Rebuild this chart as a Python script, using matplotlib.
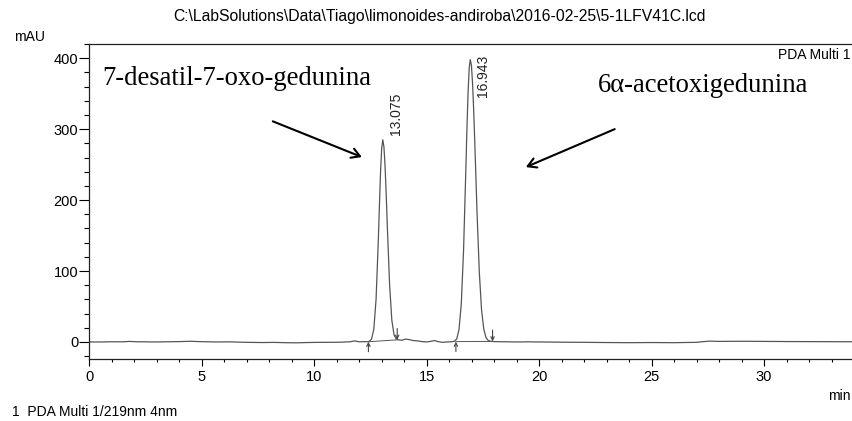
"""
HPLC chromatogram - limonoides andiroba (PDA 219 nm)
"""

import matplotlib
matplotlib.use("Agg")
import matplotlib.pyplot as plt
from matplotlib.ticker import MultipleLocator

plt.rcParams["font.family"] = ["Liberation Sans", "DejaVu Sans"]

# signal (min, mAU)
time_min = [
    0.0, 0.5, 1.0, 1.5, 1.8, 2.1, 2.5, 3.0, 3.5, 4.0, 4.5, 4.8, 5.2, 5.7, 6.2,
    6.7, 7.2, 7.7, 8.2, 8.7, 9.2, 9.7, 10.2, 10.7, 11.2, 11.6, 11.8, 12.0, 12.2, 12.4,
    12.45, 12.55, 12.65, 12.75, 12.85, 12.9, 12.95, 13.0, 13.05, 13.1, 13.15, 13.2,
    13.25, 13.35, 13.45, 13.55, 13.65, 13.75, 13.9, 14.05, 14.2, 14.4, 14.6, 14.8,
    15.0, 15.2, 15.35, 15.5, 15.7, 15.9, 16.1, 16.24,
    16.34, 16.44, 16.54, 16.64, 16.74, 16.79, 16.84, 16.89, 16.94, 16.99, 17.04,
    17.09, 17.14, 17.24, 17.34, 17.44, 17.54, 17.64, 17.74, 17.84, 18.0, 18.5,
    19.0, 19.5, 20.0, 21.0, 22.0, 23.0, 24.0, 25.0, 26.0, 27.0, 27.3, 27.6, 28.0,
    29.0, 30.0, 31.0, 32.0, 33.0, 34.0,
]
signal_mau = [
    0.0, 0.0, 0.3, 0.2, 0.8, 0.3, 0.2, 0.0, 0.3, 0.5, 1.0, 0.6, 0.3, 0.0, 0.2,
    -0.3, -0.6, -0.8, -0.6, -1.0, -1.2, -0.8, -0.5, -0.5, -0.3, 0.3, 1.5, 0.2, 0.5, 0.4,
    1.0, 4.0, 18.0, 60.0, 143.0, 193.0, 240.0, 273.0, 285.0, 275.0, 248.0, 209.0,
    164.0, 82.0, 31.0, 10.0, 4.0, 3.0, 2.5, 4.0, 3.5, 2.0, 1.5, 0.5,
    0.0, 1.0, 2.0, 0.5, -0.5, 0.0, 0.3, 1.0,
    4.5, 18.0, 54.0, 129.0, 241.0, 300.0, 351.0, 386.0, 398.0, 390.0, 365.0,
    327.0, 281.0, 182.0, 99.0, 45.0, 18.0, 6.0, 2.0, 1.0, 0.5, 0.3,
    0.0, 0.2, 0.0, -0.3, -0.5, -0.8, -1.0, -0.8, -1.0, -0.5, 0.5, 1.2, 0.8,
    1.0, 0.8, 0.6, 0.5, 0.4, 0.3,
]

# integrated peaks
peak_rt = [13.075, 16.943]
peak_height = [285, 398]
peak_start = [12.41, 16.30]
peak_end = [13.69, 17.93]
start_level = [0.3, 0.5]
end_level = [3.0, 0.8]

compounds = ["7-desatil-7-oxo-gedunina", "6\u03b1-acetoxigedunina"]

fig = plt.figure(figsize=(8.53, 4.21), dpi=100)
ax = fig.add_axes([89.3 / 853, 1 - 359 / 421, (854 - 89.3) / 853, 315 / 421])

ax.plot(time_min, signal_mau, color="#555555", lw=0.9)

# integration marks + baselines
for s, e, ys, ye in zip(peak_start, peak_end, start_level, end_level):
    ax.plot([s, e], [ys, ye], color="#555555", lw=0.7)
    ax.annotate("", xy=(s, ys), xytext=(s, ys - 14),
                arrowprops=dict(arrowstyle="->,head_length=0.25,head_width=0.12",
                                color="#444444", lw=0.8, shrinkA=0, shrinkB=0))
    ax.annotate("", xy=(e, ye), xytext=(e, ye + 16),
                arrowprops=dict(arrowstyle="->,head_length=0.25,head_width=0.12",
                                color="#444444", lw=0.8, shrinkA=0, shrinkB=0))

# retention time labels
for rt, h in zip(peak_rt, peak_height):
    ax.text(rt + 0.25, min(h + 7, 345), f"{rt:.3f}", rotation=90, fontsize=10,
            ha="left", va="bottom", color="#222222")

# compound names + arrows
ax.text(0.56, 372, compounds[0], family="Liberation Serif", fontsize=19.2,
        va="center", ha="left")
ax.text(22.6, 362, compounds[1], family="Liberation Serif", fontsize=19.2,
        va="center", ha="left")
arrow = dict(arrowstyle="->,head_length=0.6,head_width=0.35", color="black",
             lw=1.5, shrinkA=0, shrinkB=0)
ax.annotate("", xy=(12.12, 260.6), xytext=(8.16, 311), arrowprops=arrow)
ax.annotate("", xy=(19.41, 246.5), xytext=(23.36, 300), arrowprops=arrow)

ax.set_xlim(0, 34)
ax.set_ylim(-24, 420)
ax.xaxis.set_major_locator(MultipleLocator(5))
ax.xaxis.set_minor_locator(MultipleLocator(1))
ax.yaxis.set_major_locator(MultipleLocator(100))
ax.yaxis.set_minor_locator(MultipleLocator(20))
ax.tick_params(axis="x", which="major", length=5, width=0.8, labelsize=10.5, pad=3)
ax.tick_params(axis="x", which="minor", length=2.5, width=0.8)
ax.tick_params(axis="y", which="major", length=7, width=0.8, labelsize=10.5, pad=1)
ax.tick_params(axis="y", which="minor", length=3.5, width=0.8)
for sp in ax.spines.values():
    sp.set_linewidth(0.9)
    sp.set_color("#222222")

fig.text(440 / 853, 1 - 17 / 421,
         r"C:\LabSolutions\Data\Tiago\limonoides-andiroba\2016-02-25\5-1LFV41C.lcd",
         ha="center", va="center", fontsize=11.3)
fig.text(14 / 853, 1 - 37 / 421, "mAU", ha="left", va="center", fontsize=10)
fig.text(851 / 853, 1 - 55 / 421, "PDA Multi 1", ha="right", va="center", fontsize=10)
fig.text(851 / 853, 1 - 396 / 421, "min", ha="right", va="center", fontsize=10)
fig.text(12 / 853, 1 - 412 / 421, "1  PDA Multi 1/219nm 4nm", ha="left",
         va="center", fontsize=10)

fig.savefig("out.png", dpi=100)
print("Saved out.png")
